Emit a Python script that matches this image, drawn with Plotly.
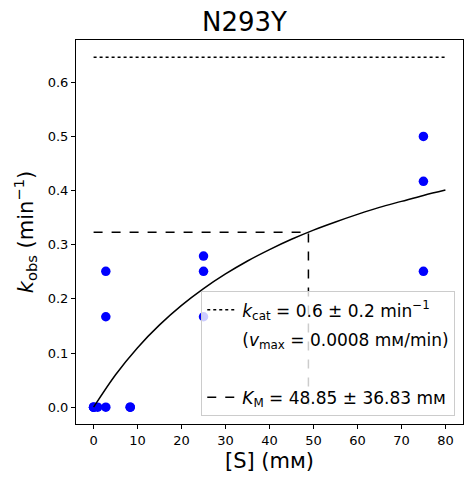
import plotly.graph_objects as go

# substrate concentrations (mM) and observed rates (1/min)
s_conc = [0, 0, 0, 0.926, 2.78, 2.78, 2.78, 8.33, 8.33, 25, 25, 25, 75, 75, 75]
k_obs = [0, 0, 0, 0, 0.251, 0.167, 0, 0, 0, 0.279, 0.251, 0.167, 0.5, 0.417, 0.251]

# fitted parameters
kcat = 0.646
km = 48.85

# fitted curve
curve_s = [0, 5, 10, 15, 20, 25, 30, 35, 40, 45, 50, 55, 60, 65, 70, 75, 80]
curve_k = [0, 0.060, 0.110, 0.152, 0.188, 0.219, 0.246, 0.270, 0.291, 0.310,
           0.327, 0.342, 0.356, 0.369, 0.380, 0.391, 0.401]

kcat_line_s = [0, 80]
km_line_s = [0, km, km]
km_line_k = [kcat / 2, kcat / 2, 0]

fig = go.Figure()

fig.add_trace(go.Scatter(x=s_conc, y=k_obs, mode="markers",
                         marker=dict(color="blue", size=9.5), showlegend=False))
fig.add_trace(go.Scatter(x=curve_s, y=curve_k, mode="lines", line_shape="spline",
                         line=dict(color="black", width=1.5), showlegend=False))
fig.add_trace(go.Scatter(x=kcat_line_s, y=[kcat, kcat], mode="lines", legendgroup="a",
                         line=dict(color="black", width=1.5, dash="dot"),
                         name="<i>k</i><sub>cat</sub> = 0.6 ± 0.2 min<sup>−1</sup>"))
fig.add_trace(go.Scatter(x=[None], y=[None], mode="lines", legendgroup="b",
                         line=dict(color="rgba(0,0,0,0)"),
                         name="(<i>v</i><sub>max</sub> = 0.0008 mᴍ/min)"))
fig.add_trace(go.Scatter(x=[None], y=[None], mode="lines", legendgroup="c",
                         line=dict(color="rgba(0,0,0,0)"), name=" "))
fig.add_trace(go.Scatter(x=km_line_s, y=km_line_k, mode="lines", legendgroup="d",
                         line=dict(color="black", width=1.5, dash="dash"),
                         name="<i>K</i><sub>M</sub> = 48.85 ± 36.83 mᴍ"))

axis_style = dict(showline=True, linecolor="black", linewidth=1, mirror=True,
                  ticks="outside", ticklen=4, tickcolor="black", showgrid=False,
                  zeroline=False, automargin=False,
                  tickfont=dict(size=13, color="black"))

# the page body adds an 8px offset, so margins are shifted to compensate
fig.update_layout(
    width=473, height=484,
    margin=dict(l=68, r=18, t=32, b=68),
    plot_bgcolor="white", paper_bgcolor="white",
    font=dict(family="DejaVu Sans", color="black"),
    title=dict(text="N293Y", x=0.5, xanchor="center", y=0.971, yanchor="middle",
               font=dict(size=26), automargin=False),
    xaxis=dict(range=[-4, 84], tickvals=[0, 10, 20, 30, 40, 50, 60, 70, 80],
               title=dict(text="[S] (mᴍ)", font=dict(size=21), standoff=6), **axis_style),
    yaxis=dict(range=[-0.031, 0.678], tickvals=[0, 0.1, 0.2, 0.3, 0.4, 0.5, 0.6],
               tickformat=".1f",
               title=dict(text="<i>k</i><sub>obs</sub> (min<sup>−1</sup>)",
                          font=dict(size=21), standoff=8), **axis_style),
    legend=dict(x=0.98, xanchor="right", y=0.02, yanchor="bottom",
                bgcolor="rgba(255,255,255,0.8)", bordercolor="#cccccc", borderwidth=1,
                font=dict(size=17), traceorder="grouped", tracegroupgap=4),
)

fig.write_html("out.html")
